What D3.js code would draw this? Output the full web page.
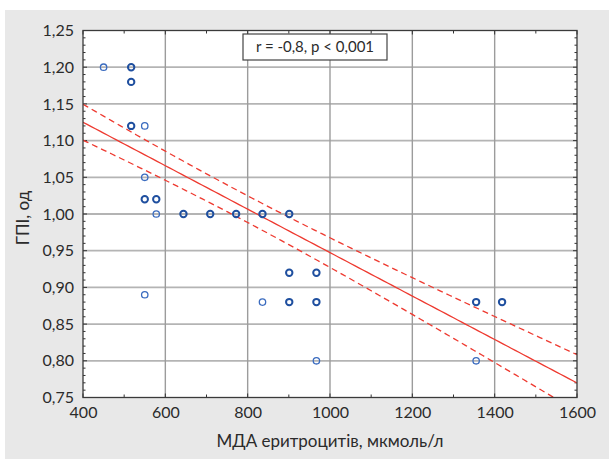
<!DOCTYPE html>
<html><head><meta charset="utf-8">
<script src="https://cdn.jsdelivr.net/npm/d3@7"></script>
<style>
html,body{margin:0;padding:0;background:#fff;}
svg{display:block;font-family:Lato,"Open Sans",sans-serif;}
</style></head>
<body>
<script>
// ---- data ----
const xTicks = [400, 600, 800, 1000, 1200, 1400, 1600];
const yTicks = [0.75, 0.80, 0.85, 0.90, 0.95, 1.00, 1.05, 1.10, 1.15, 1.20, 1.25];
const pointsX = [450, 517, 517, 517, 550, 550, 550, 550, 578, 578, 644, 709, 772, 836, 836, 901, 901, 901, 967, 967, 967, 1355, 1355, 1418];
const pointsY = [1.20, 1.20, 1.18, 1.12, 1.12, 1.05, 1.02, 0.89, 1.02, 1.00, 1.00, 1.00, 1.00, 1.00, 0.88, 1.00, 0.92, 0.88, 0.92, 0.88, 0.80, 0.88, 0.80, 0.88];
const pointsN = [1, 2, 2, 2, 1, 1, 2, 1, 2, 1, 2, 2, 2, 2, 1, 2, 2, 2, 2, 2, 1, 2, 1, 2];
// regression fit
const fitIntercept400 = 1.125;   // fitted value at x = 400
const fitSlope = -0.000296;      // per unit x
const ciMeanX = 790;
const ciA = 0.000330;            // squared half-width at mean x
const ciB = 1.76e-9;             // growth of squared half-width
const annotation = "r = -0,8, p < 0,001";
const xTitle = "МДА еритроцитів, мкмоль/л";
const yTitle = "ГПІ, од";

// ---- layout ----
const W = 609, H = 459;
const L = 83, R = 577, T = 30.5, B = 397.5;
const svg = d3.select("body").append("svg").attr("width", W).attr("height", H);

svg.append("rect").attr("x", 5).attr("y", 10).attr("width", W - 5).attr("height", H - 10).attr("fill", "#e8e8e8");
svg.append("rect").attr("x", L).attr("y", T).attr("width", R - L).attr("height", B - T).attr("fill", "#fff");

const x = d3.scaleLinear().domain([400, 1600]).range([L, R]);
const y = d3.scaleLinear().domain([0.75, 1.25]).range([B, T]);
const fmtY = d => d3.format(".2f")(d).replace(".", ",");

// grid
svg.append("g").selectAll("line").data(yTicks.slice(1, -1)).join("line")
  .attr("x1", L).attr("x2", R).attr("y1", d => y(d)).attr("y2", d => y(d))
  .attr("stroke", "#b4b4b4").attr("stroke-width", 1.8);
svg.append("g").selectAll("line").data(xTicks.slice(1, -1)).join("line")
  .attr("y1", T).attr("y2", B).attr("x1", d => x(d)).attr("x2", d => x(d))
  .attr("stroke", "#9c9c9c").attr("stroke-width", 1.4);

// axes (labels)
const axL = svg.append("g").attr("transform", `translate(${L},0)`)
  .call(d3.axisLeft(y).tickValues(yTicks).tickFormat(fmtY).tickSize(0).tickPadding(9));
const axB = svg.append("g").attr("transform", `translate(0,${B})`)
  .call(d3.axisBottom(x).tickValues(xTicks).tickFormat(d3.format("d")).tickSize(0).tickPadding(9));
[axL, axB].forEach(a => {
  a.select(".domain").remove();
  a.selectAll("text").attr("font-size", 16).attr("fill", "#2b2b2b").attr("font-family", "Lato, sans-serif");
});

// inside ticks
const yMinor = d3.range(0.75, 1.2501, 0.01);
const xMinor = d3.range(400, 1601, 100);
const tk = svg.append("g").attr("stroke", "#333").attr("stroke-width", 1);
tk.selectAll(".yl").data(yMinor).join("line")
  .attr("x1", L).attr("x2", (d, i) => L + (i % 5 === 0 ? 4 : 2.5))
  .attr("y1", d => y(d)).attr("y2", d => y(d));
tk.selectAll(".yr").data(yMinor).join("line")
  .attr("x1", R).attr("x2", (d, i) => R - (i % 5 === 0 ? 4 : 2.5))
  .attr("y1", d => y(d)).attr("y2", d => y(d));
tk.selectAll(".xb").data(xMinor).join("line")
  .attr("y1", B).attr("y2", (d, i) => B - (i % 2 === 0 ? 4 : 3))
  .attr("x1", d => x(d)).attr("x2", d => x(d));
tk.selectAll(".xt").data(xMinor).join("line")
  .attr("y1", T).attr("y2", (d, i) => T + (i % 2 === 0 ? 4 : 3))
  .attr("x1", d => x(d)).attr("x2", d => x(d));

// clip
svg.append("clipPath").attr("id", "clip").append("rect")
  .attr("x", L).attr("y", T).attr("width", R - L).attr("height", B - T);

// regression + CI
const fit = v => fitIntercept400 + fitSlope * (v - 400);
const half = v => Math.sqrt(ciA + ciB * (v - ciMeanX) * (v - ciMeanX));
const xs = d3.range(400, 1601, 10);
const line = d3.line().x(d => x(d[0])).y(d => y(d[1]));
const gl = svg.append("g").attr("clip-path", "url(#clip)").attr("fill", "none").attr("stroke", "#ee3a30");
gl.append("path").attr("d", line(xs.map(v => [v, fit(v)]))).attr("stroke-width", 1.3);
gl.append("path").attr("d", line(xs.map(v => [v, fit(v) + half(v)]))).attr("stroke-width", 1.3).attr("stroke-dasharray", "6,4");
gl.append("path").attr("d", line(xs.map(v => [v, fit(v) - half(v)]))).attr("stroke-width", 1.3).attr("stroke-dasharray", "6,4");

// points
svg.append("g").selectAll("circle").data(pointsX.map((v, i) => ({x: v, y: pointsY[i], n: pointsN[i]}))).join("circle")
  .attr("cx", d => x(d.x)).attr("cy", d => y(d.y)).attr("r", 3.2)
  .attr("fill", "none")
  .attr("stroke", d => d.n > 1 ? "#1f4f9f" : "#3a6bbf")
  .attr("stroke-width", d => d.n > 1 ? 2 : 1.3);

// border
svg.append("rect").attr("x", L).attr("y", T).attr("width", R - L).attr("height", B - T)
  .attr("fill", "none").attr("stroke", "#3a3a3a").attr("stroke-width", 1.3);

// annotation box
const bx = 243, by = 34, bw = 144, bh = 26;
svg.append("rect").attr("x", bx).attr("y", by).attr("width", bw).attr("height", bh)
  .attr("fill", "#fff").attr("stroke", "#444").attr("stroke-width", 1.2);
svg.append("text").attr("x", bx + bw / 2).attr("y", by + bh / 2 + 5).attr("text-anchor", "middle")
  .attr("font-size", 15).attr("fill", "#2b2b2b").text(annotation);

// titles
svg.append("text").attr("x", (L + R) / 2).attr("y", 447).attr("text-anchor", "middle")
  .attr("font-size", 17).attr("fill", "#2b2b2b").text(xTitle);
svg.append("text").attr("transform", `translate(29,${(T + B) / 2 + 4}) rotate(-90)`).attr("text-anchor", "middle")
  .attr("font-size", 17).attr("fill", "#2b2b2b").text(yTitle);
</script>
</body></html>
